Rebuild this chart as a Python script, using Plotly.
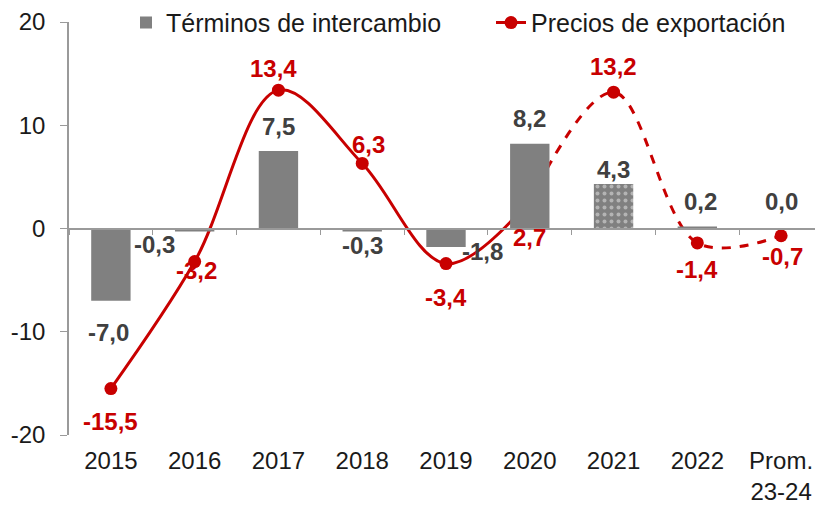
import plotly.graph_objects as go

categories = ["2015", "2016", "2017", "2018", "2019", "2020", "2021", "2022", "Prom.<br>23-24"]
terminos = [-7.0, -0.3, 7.5, -0.3, -1.8, 8.2, 4.3, 0.2, 0.0]
precios = [-15.5, -3.2, 13.4, 6.3, -3.4, 2.7, 13.2, -1.4, -0.7]
pattern_shapes = ["", "", "", "", "", "", ".", "", ""]
y_ticks = [-20, -10, 0, 10, 20]
y_ticktext = ["-20", "-10", "0", "10", "20"]

# label offsets (pixels) for readability
bar_label_shift = [(-2, -32), (-40, -13), (0, 25), (0, -14), (36, -4), (0, 25), (0, 15), (3, 25), (0, 27)]
line_label_shift = [(0, -33), (2, -9), (-5, 22), (6, 19), (0, -34), (0, -37), (0, 26), (0, -27), (1, -21)]

bar_color = "#808080"
red = "#C80000"
font_family = "Liberation Sans, Arial, sans-serif"
FS = 24

fig = go.Figure()

fig.add_trace(go.Bar(
    x=categories, y=terminos, name="Términos de intercambio",
    marker=dict(color=bar_color, line=dict(width=0),
                pattern=dict(shape=pattern_shapes, fgcolor="#e8e8e8", bgcolor=bar_color, size=7, solidity=0.25)),
    width=0.47, xaxis="x2", yaxis="y",
))

solid_n = 6
fig.add_trace(go.Scatter(
    x=categories[:solid_n], y=precios[:solid_n], name="Precios de exportación",
    mode="lines+markers", line=dict(color=red, width=3, shape="spline", smoothing=1.0),
    marker=dict(color=red, size=13), xaxis="x", yaxis="y",
))
fig.add_trace(go.Scatter(
    x=categories[solid_n - 1:], y=precios[solid_n - 1:], name="Precios de exportación",
    mode="lines+markers", line=dict(color=red, width=3, shape="spline", smoothing=1.0, dash="dash"),
    marker=dict(color=red, size=13), showlegend=False, xaxis="x", yaxis="y",
))

annotations = []
for i, (v, (dx, dy)) in enumerate(zip(terminos, bar_label_shift)):
    annotations.append(dict(x=i, y=v, xref="x", yref="y", text=f"{v:.1f}".replace(".", ","),
                            showarrow=False, xshift=dx, yshift=dy,
                            font=dict(family=font_family, size=FS, color="#404040", weight="bold")))
for i, (v, (dx, dy)) in enumerate(zip(precios, line_label_shift)):
    annotations.append(dict(x=i, y=v, xref="x", yref="y", text=f"{v:.1f}".replace(".", ","),
                            showarrow=False, xshift=dx, yshift=dy,
                            font=dict(family=font_family, size=FS, color=red, weight="bold")))

fig.update_layout(
    width=815, height=500,
    margin=dict(l=61, r=0, t=14, b=73, autoexpand=False),
    plot_bgcolor="white", paper_bgcolor="white",
    font=dict(family=font_family, size=FS, color="#1a1a1a"),
    showlegend=True,
    legend=dict(orientation="h", x=0.0756, xanchor="left", y=0.998, yanchor="middle",
                font=dict(size=25, color="#1a1a1a"), bgcolor="rgba(255,255,255,0)",
                itemwidth=30, tracegroupgap=0, entrywidth=320),
    xaxis=dict(type="category", range=[-0.5, 8.5], showline=False, ticks="",
               showgrid=False, zeroline=False, side="bottom", ticklabelstandoff=9,
               tickfont=dict(size=FS, color="#1a1a1a")),
    xaxis2=dict(type="category", range=[-0.5, 8.5], overlaying="x", anchor="free", position=0.5,
                showline=True, linecolor="#9a9a9a", linewidth=1.5, ticks="outside", tickson="boundaries",
                ticklen=6, tickcolor="#9a9a9a", showticklabels=False, showgrid=False, zeroline=False),
    yaxis=dict(range=[-20, 20], tickvals=y_ticks, ticktext=y_ticktext, showline=True,
               linecolor="#9a9a9a", linewidth=1.5, ticklabelstandoff=10,
               ticks="outside", ticklen=7, tickcolor="#9a9a9a", showgrid=False, zeroline=False,
               tickfont=dict(size=FS, color="#1a1a1a")),
    annotations=annotations,
)

fig.write_html("out.html")
